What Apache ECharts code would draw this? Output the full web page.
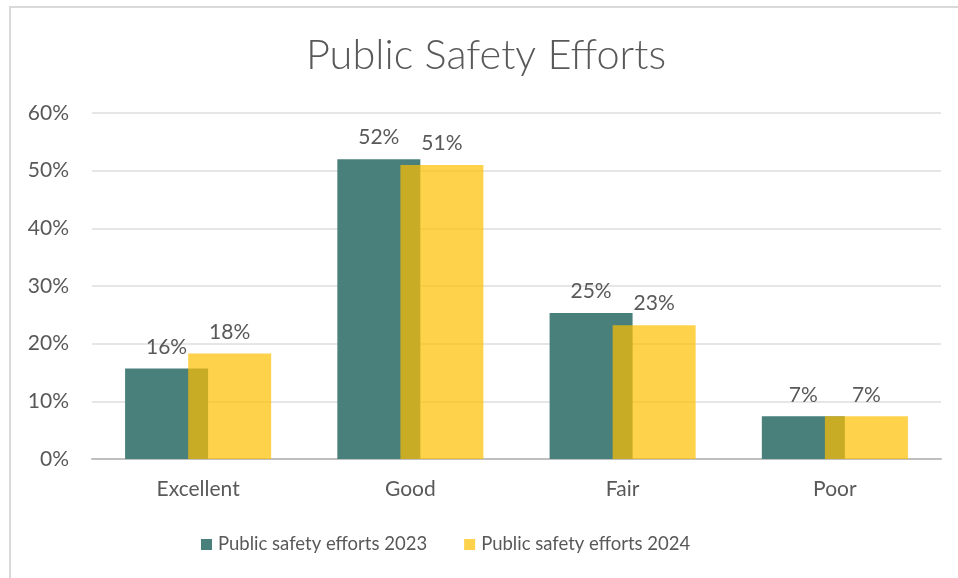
<!DOCTYPE html>
<html>
<head>
<meta charset="utf-8">
<title>Public Safety Efforts</title>
<script src="https://cdn.jsdelivr.net/npm/echarts@6/dist/echarts.min.js"></script>
<style>
  html, body { margin: 0; padding: 0; background: #ffffff; }
  #chart { width: 958px; height: 578px; }
</style>
</head>
<body>
<div id="chart"></div>
<script>
// Survey ratings of public safety efforts, share of respondents
const categories = ['Excellent', 'Good', 'Fair', 'Poor'];
const seriesNames = ['Public safety efforts 2023', 'Public safety efforts 2024'];
const values2023 = [0.157, 0.52, 0.253, 0.074];
const values2024 = [0.183, 0.51, 0.232, 0.074];
const yTicks = [0, 0.1, 0.2, 0.3, 0.4, 0.5, 0.6];

const FONT = 'Lato, "Open Sans", sans-serif';
const TEXT = '#595959';

const pct = v => Math.round(v * 100) + '%';

const chart = echarts.init(document.getElementById('chart'), null, { renderer: 'canvas' });

const labelStyle = {
  show: true,
  position: 'top',
  distance: 11,
  color: TEXT,
  fontFamily: FONT,
  fontSize: 21,
  formatter: p => pct(p.value)
};

chart.setOption({
  backgroundColor: '#ffffff',
  animation: false,
  graphic: [{
    type: 'polyline',
    shape: { points: [[10, 600], [10, 7], [980, 7]] },
    style: { stroke: '#d9d9d9', lineWidth: 2, fill: null },
    silent: true
  }],
  title: {
    text: 'Public Safety Efforts',
    left: 481,
    textAlign: 'center',
    top: 30,
    textStyle: { fontFamily: FONT, fontSize: 41.5, fontWeight: 300, color: TEXT }
  },
  legend: {
    bottom: 19,
    left: 196,
    itemWidth: 11,
    itemHeight: 11,
    itemGap: 37,
    icon: 'rect',
    textStyle: { fontFamily: FONT, fontSize: 18.5, color: TEXT, padding: [0, 0, 0, 1] },
    data: seriesNames
  },
  grid: { left: 92, right: 17, top: 113, bottom: 119, containLabel: false },
  xAxis: {
    type: 'category',
    data: categories,
    axisLine: { lineStyle: { color: '#bfbfbf', width: 2 } },
    axisTick: { show: false },
    axisLabel: { color: TEXT, fontFamily: FONT, fontSize: 21, margin: 20 }
  },
  yAxis: {
    type: 'value',
    min: yTicks[0],
    max: yTicks[yTicks.length - 1],
    interval: 0.1,
    axisLine: { show: false },
    axisTick: { show: false },
    splitLine: { lineStyle: { color: '#e6e6e6', width: 2 } },
    axisLabel: { color: TEXT, fontFamily: FONT, fontSize: 21, margin: 23, formatter: v => pct(v) }
  },
  series: [
    {
      name: seriesNames[0],
      type: 'bar',
      data: values2023,
      barWidth: 83,
      barGap: '-24%',
      itemStyle: { color: '#4a807c' },
      label: labelStyle
    },
    {
      name: seriesNames[1],
      type: 'bar',
      data: values2024,
      barWidth: 83,
      barGap: '-24%',
      itemStyle: { color: 'rgba(255,191,0,0.7)' },
      label: labelStyle
    }
  ]
});
</script>
</body>
</html>
